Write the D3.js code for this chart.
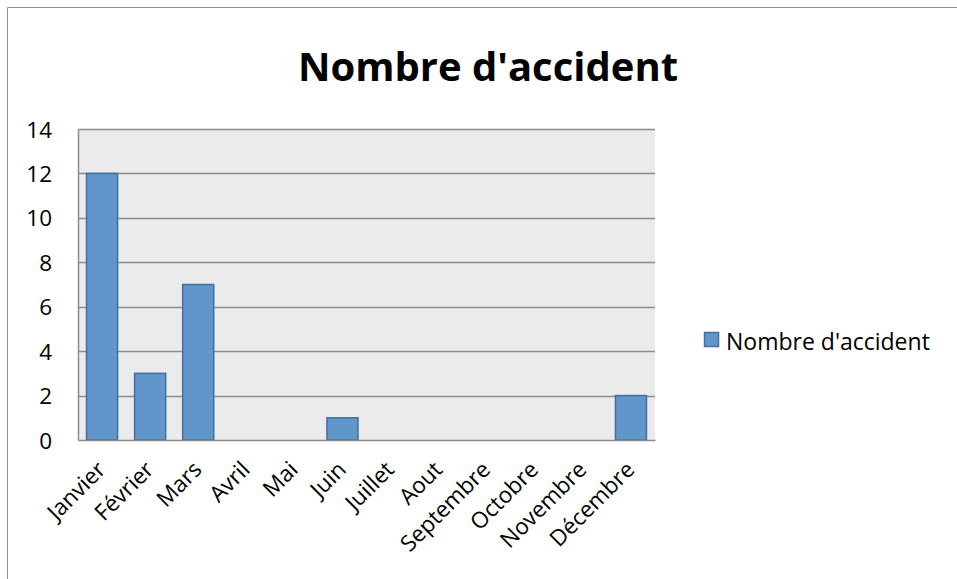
<!DOCTYPE html>
<html><head><meta charset="utf-8">
<script src="https://cdn.jsdelivr.net/npm/d3@7"></script>
<style>body{margin:0;background:#fff;} svg{display:block;}</style>
</head><body>
<svg id="c" width="957" height="579"></svg>
<script>
const categories = ["Janvier","Février","Mars","Avril","Mai","Juin","Juillet","Aout","Septembre","Octobre","Novembre","Décembre"];
const values = [12,3,7,0,0,1,0,0,0,0,0,2];
const yTicks = [0,2,4,6,8,10,12,14];
const seriesName = "Nombre d'accident";
const titleText = "Nombre d'accident";

const font = "'Open Sans', 'Noto Sans', sans-serif";
const svg = d3.select("#c");
const m = {left:78, right:655, top:129, bottom:440};

// outer border
svg.append("path").attr("d","M7.5,579 L7.5,7.5 L957,7.5").attr("fill","none").attr("stroke","#8f8f8f").attr("stroke-width",1);

const x = d3.scaleBand().domain(categories).range([m.left,m.right]).paddingInner(1/3).paddingOuter(1/6);
const y = d3.scaleLinear().domain([0,14]).range([m.bottom,m.top]);

svg.append("rect").attr("x",m.left).attr("y",m.top).attr("width",m.right-m.left).attr("height",m.bottom-m.top).attr("fill","#ebebeb");

// gridlines
svg.append("g").selectAll("line").data(yTicks.filter(d=>d>0)).join("line")
  .attr("x1",m.left).attr("x2",m.right).attr("y1",d=>Math.round(y(d))+0.5).attr("y2",d=>Math.round(y(d))+0.5)
  .attr("stroke","#8c8c8c").attr("stroke-width",1.5);

// bars
svg.append("g").selectAll("rect").data(values.map((v,i)=>({c:categories[i],v}))).join("rect")
  .filter(d=>d.v>0)
  .attr("x",d=>x(d.c)+0.5).attr("y",d=>y(d.v)).attr("width",x.bandwidth()-1).attr("height",d=>y(0)-y(d.v))
  .attr("fill","#6096cc").attr("stroke","#41709f").attr("stroke-width",1.5);

// axes
const ya = d3.axisLeft(y).tickValues(yTicks).tickSize(0).tickPadding(0);
const gy = svg.append("g").attr("transform",`translate(${m.left},0)`).call(ya);
gy.select(".domain").attr("stroke","#8c8c8c").attr("stroke-width",1.5);
gy.selectAll("text").attr("x",-26).attr("dy","0.36em").attr("font-family",font).attr("font-size",22.5).attr("fill","#000");

const xa = d3.axisBottom(x).tickSize(0).tickPadding(0);
const gx = svg.append("g").attr("transform",`translate(0,${m.bottom})`).call(xa);
gx.select(".domain").attr("stroke","#8c8c8c").attr("stroke-width",1.5);
gx.selectAll("text").attr("y",0).attr("dy",0).attr("text-anchor","end")
  .attr("transform","translate(5,31) rotate(-45)")
  .attr("font-family",font).attr("font-size",22.5).attr("fill","#000");

// title
svg.append("text").attr("x",488).attr("y",81).attr("text-anchor","middle")
  .attr("font-family",font).attr("font-weight","bold").attr("font-size",40).attr("fill","#000").text(titleText);

// legend
const lg = svg.append("g");
lg.append("rect").attr("x",704.5).attr("y",332.5).attr("width",14).attr("height",14).attr("fill","#6096cc").attr("stroke","#41709f").attr("stroke-width",1.5);
lg.append("text").attr("x",726).attr("y",350).attr("font-family",font).attr("font-size",23).attr("fill","#000").text(seriesName);
</script>
</body></html>
